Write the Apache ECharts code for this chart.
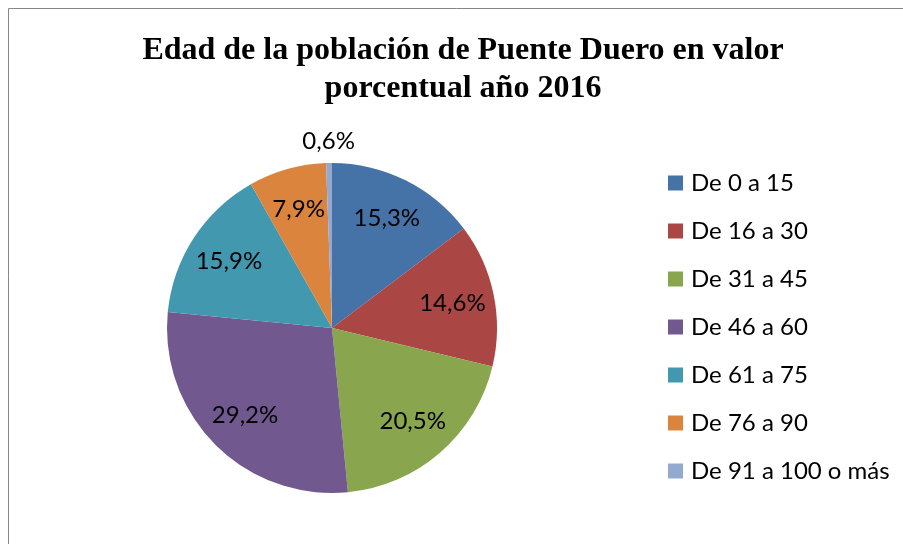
<!DOCTYPE html>
<html>
<head>
<meta charset="utf-8">
<script src="https://cdn.jsdelivr.net/npm/echarts@6/dist/echarts.min.js"></script>
<style>
  html, body { margin: 0; padding: 0; background: #ffffff; }
  #chart { width: 903px; height: 544px; }
</style>
</head>
<body>
<div id="chart"></div>
<script>
// ---- Data ----
const titleText = 'Edad de la población de Puente Duero en valor\nporcentual año 2016';
const categories = ['De 0 a 15', 'De 16 a 30', 'De 31 a 45', 'De 46 a 60', 'De 61 a 75', 'De 76 a 90', 'De 91 a 100 o más'];
const values = [15.3, 14.6, 20.5, 29.2, 15.9, 7.9, 0.6];
const outsideLabelNames = ['De 91 a 100 o más'];
const colors = ['#4572A7', '#AA4643', '#89A54E', '#71588F', '#4198AF', '#DB843D', '#93A9CF'];

const fmt = v => v.toFixed(1).replace('.', ',') + '%';
const labelFont = 'Lato, "Open Sans", sans-serif';

const chart = echarts.init(document.getElementById('chart'), null, { renderer: 'canvas' });

const mainData = categories.map((n, i) => ({ name: n, value: values[i], itemStyle: { color: colors[i] } }));
const innerLabelData = categories.map((n, i) => ({
  name: n, value: values[i],
  label: { show: outsideLabelNames.indexOf(n) < 0 }
}));
const outerLabelData = categories.map((n, i) => ({
  name: n, value: values[i],
  label: { show: outsideLabelNames.indexOf(n) >= 0 }
}));

const labelStyle = {
  position: 'inside',
  formatter: p => fmt(p.value),
  color: '#000000',
  fontFamily: labelFont,
  fontSize: 24
};

chart.setOption({
  animation: false,
  backgroundColor: '#ffffff',
  title: {
    text: titleText,
    left: 458,
    top: 27,
    textAlign: 'center',
    textStyle: {
      fontFamily: '"Liberation Serif", "Times New Roman", serif',
      fontWeight: 'bold',
      fontSize: 32,
      lineHeight: 38,
      color: '#000000'
    }
  },
  legend: {
    orient: 'vertical',
    left: 668,
    top: 171,
    padding: 0,
    icon: 'rect',
    itemWidth: 15,
    itemHeight: 15,
    itemGap: 24,
    data: categories,
    selectedMode: false,
    textStyle: {
      fontFamily: labelFont,
      fontSize: 24,
      lineHeight: 24,
      color: '#000000',
      padding: [0, 0, 0, 3]
    }
  },
  graphic: [{
    type: 'rect',
    shape: { x: 8.5, y: 8.5, width: 1200, height: 1200 },
    style: { fill: 'none', stroke: '#868686', lineWidth: 1 },
    silent: true,
    z: -1
  }],
  series: [
    {
      type: 'pie',
      center: [332, 328],
      radius: [0, 165],
      startAngle: 90,
      clockwise: true,
      data: mainData,
      label: { show: false },
      labelLine: { show: false },
      emphasis: { scale: false },
      itemStyle: { borderWidth: 0 }
    },
    {
      type: 'pie',
      center: [332, 328],
      radius: [75, 165],
      startAngle: 90,
      clockwise: true,
      silent: true,
      data: innerLabelData,
      itemStyle: { color: 'rgba(0,0,0,0)', borderWidth: 0 },
      label: labelStyle,
      labelLine: { show: false },
      emphasis: { disabled: true }
    },
    {
      type: 'pie',
      center: [332, 328],
      radius: [168, 200],
      startAngle: 90,
      clockwise: true,
      silent: true,
      data: outerLabelData,
      itemStyle: { color: 'rgba(0,0,0,0)', borderWidth: 0 },
      label: labelStyle,
      labelLine: { show: false },
      emphasis: { disabled: true }
    }
  ]
});
</script>
</body>
</html>
